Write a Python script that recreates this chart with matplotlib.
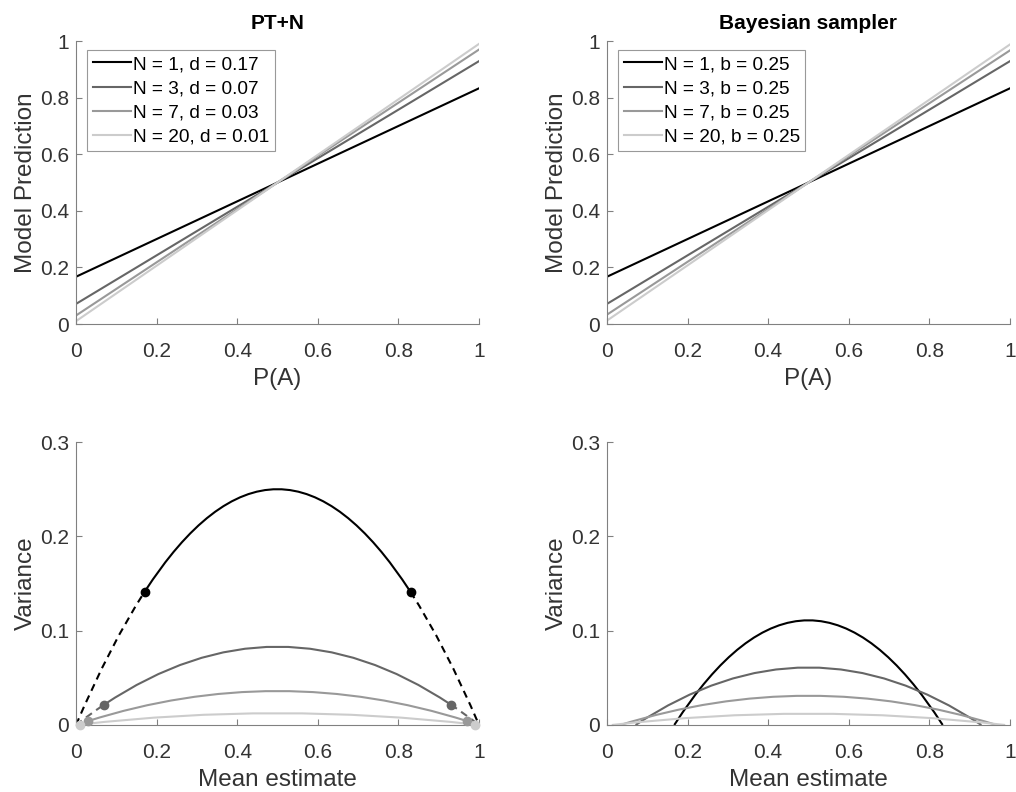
import numpy as np
import matplotlib
matplotlib.use('Agg')
import matplotlib.pyplot as plt
from matplotlib.path import Path
from matplotlib.patches import PathPatch

plt.rcParams['font.family'] = ['Liberation Sans', 'DejaVu Sans']

# values
n_samples = [1, 3, 7, 20]
line_colors = ['0.0', '0.4', '0.6', '0.8']
pt_d = [0.17, 0.07, 0.03, 0.01]
bs_b = [0.25, 0.25, 0.25, 0.25]

# top row: straight lines, prediction at P(A)=0 and P(A)=1
p_ends = [0, 1]
pt_pred_at0 = [0.167, 0.071, 0.030, 0.010]
pt_pred_at1 = [0.833, 0.929, 0.970, 0.990]
bs_pred_at0 = [0.167, 0.071, 0.033, 0.012]
bs_pred_at1 = [0.833, 0.929, 0.967, 0.988]

# bottom row: each curve is an arch, given by where it meets 0 and its peak
pt_zero_lo = [0.0, 0.0, 0.0, 0.0]
pt_zero_hi = [1.0, 1.0, 1.0, 1.0]
pt_peak = [0.250, 0.083, 0.036, 0.0125]
pt_dot_x_lo = [0.17, 0.07, 0.03, 0.01]
pt_dot_x_hi = [0.83, 0.93, 0.97, 0.99]
pt_dot_y = [0.141, 0.0217, 0.0042, 0.0005]

bs_zero_lo = [0.167, 0.071, 0.033, 0.012]
bs_zero_hi = [0.833, 0.929, 0.967, 0.988]
bs_peak = [0.111, 0.061, 0.031, 0.012]


def arch_path(z0, z1, peak, x0, x1):
    '''piece of the arch between x0 and x1 as one quadratic bezier'''
    P0 = np.array([z0, 0.0])
    C = np.array([(z0 + z1) / 2, 2 * peak])
    P2 = np.array([z1, 0.0])
    def blossom(u, v):
        return (1-u)*(1-v)*P0 + (u*(1-v) + v*(1-u))*C + u*v*P2
    t0 = (x0 - z0) / (z1 - z0)
    t1 = (x1 - z0) / (z1 - z0)
    verts = [blossom(t0, t0), blossom(t0, t1), blossom(t1, t1)]
    return Path(verts, [Path.MOVETO, Path.CURVE3, Path.CURVE3])


def add_arch(ax, z0, z1, peak, x0, x1, color, ls='-'):
    patch = PathPatch(arch_path(z0, z1, peak, x0, x1), fill=False,
        edgecolor=color, lw=1.5, ls=ls, capstyle='butt')
    ax.add_patch(patch)


def style_axes(ax, yticks, yticklabels):
    ax.set_xlim(0, 1)
    ax.set_xticks([0, 0.2, 0.4, 0.6, 0.8, 1])
    ax.set_xticklabels(['0', '0.2', '0.4', '0.6', '0.8', '1'])
    ax.set_ylim(yticks[0], yticks[-1])
    ax.set_yticks(yticks)
    ax.set_yticklabels(yticklabels)
    for side in ['top', 'right']:
        ax.spines[side].set_visible(False)
    for side in ['left', 'bottom']:
        ax.spines[side].set_color('0.5')
        ax.spines[side].set_linewidth(0.8)
    ax.tick_params(direction='in', length=4, width=0.8, color='0.5',
        labelcolor='0.2', labelsize=15)
    ax.tick_params(axis='x', pad=13)
    ax.tick_params(axis='y', pad=5)


fig = plt.figure(figsize=(10.16, 7.92), dpi=100)
ax_tl = fig.add_axes([0.0748, 0.5909, 0.3967, 0.3573])
ax_tr = fig.add_axes([0.5974, 0.5909, 0.3967, 0.3573])
ax_bl = fig.add_axes([0.0748, 0.0846, 0.3967, 0.3573])
ax_br = fig.add_axes([0.5974, 0.0846, 0.3967, 0.3573])

top_ticks = [0, 0.2, 0.4, 0.6, 0.8, 1]
top_labels = ['0', '0.2', '0.4', '0.6', '0.8', '1']
bot_ticks = [0, 0.1, 0.2, 0.3]
bot_labels = ['0', '0.1', '0.2', '0.3']

# top row
for ax, at0, at1, par, pname, title in [
        (ax_tl, pt_pred_at0, pt_pred_at1, pt_d, 'd', 'PT+N'),
        (ax_tr, bs_pred_at0, bs_pred_at1, bs_b, 'b', 'Bayesian sampler')]:
    for i in range(len(n_samples)):
        ax.plot(p_ends, [at0[i], at1[i]], color=line_colors[i], lw=1.5,
            label=f'N = {n_samples[i]}, {pname} = {par[i]:.2f}')
    style_axes(ax, top_ticks, top_labels)
    ax.set_xlabel('P(A)', fontsize=17.5, color='0.2', labelpad=5)
    ax.set_ylabel('Model Prediction', fontsize=17.5, color='0.2', labelpad=2)
    ax.set_title(title, fontsize=15, fontweight='bold', pad=9)
    leg = ax.legend(loc='upper left', bbox_to_anchor=(0.027, 0.968),
        borderaxespad=0, fontsize=13.7, handlelength=2.0, handletextpad=0.1,
        labelspacing=0.36, borderpad=0.3, fancybox=False, framealpha=1)
    leg.get_frame().set_edgecolor('0.6')
    leg.get_frame().set_linewidth(0.8)

# bottom left: PT+N
for i in range(len(n_samples)):
    c = line_colors[i]
    add_arch(ax_bl, pt_zero_lo[i], pt_zero_hi[i], pt_peak[i],
        pt_dot_x_lo[i], pt_dot_x_hi[i], c)
    add_arch(ax_bl, pt_zero_lo[i], pt_zero_hi[i], pt_peak[i],
        pt_zero_lo[i], pt_dot_x_lo[i], c, ls=(0, (3.5, 2.5)))
    add_arch(ax_bl, pt_zero_lo[i], pt_zero_hi[i], pt_peak[i],
        pt_dot_x_hi[i], pt_zero_hi[i], c, ls=(0, (3.5, 2.5)))
    ax_bl.plot([pt_dot_x_lo[i], pt_dot_x_hi[i]], [pt_dot_y[i], pt_dot_y[i]],
        ls='none', marker='o', ms=6, color=c, clip_on=False, zorder=5)

# bottom right: Bayesian sampler
for i in range(len(n_samples)):
    add_arch(ax_br, bs_zero_lo[i], bs_zero_hi[i], bs_peak[i],
        bs_zero_lo[i], bs_zero_hi[i], line_colors[i])

for ax in [ax_bl, ax_br]:
    style_axes(ax, bot_ticks, bot_labels)
    ax.set_xlabel('Mean estimate', fontsize=17.5, color='0.2', labelpad=5)
    ax.set_ylabel('Variance', fontsize=17.5, color='0.2', labelpad=2)

fig.savefig('out.png', dpi=100)
